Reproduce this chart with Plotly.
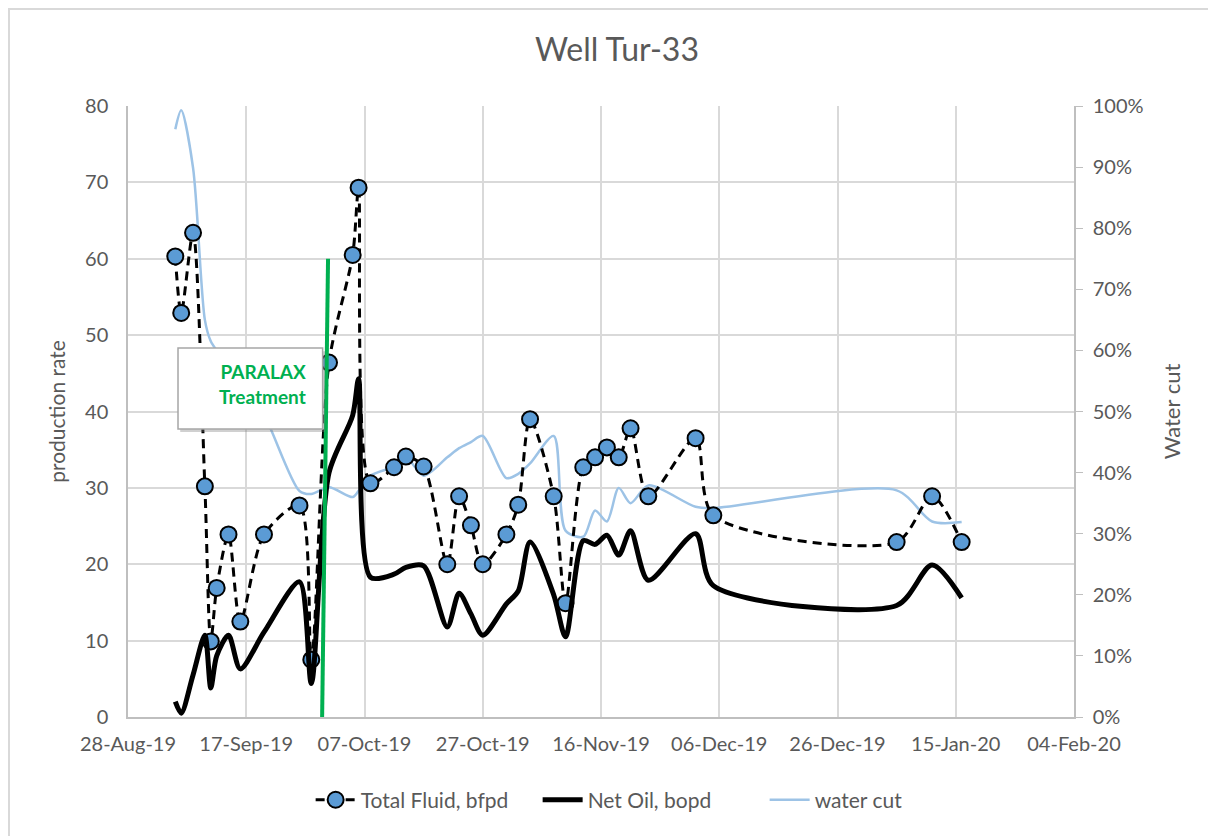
import plotly.graph_objects as go

# ---- data ----
dates = ["2019-09-05", "2019-09-06", "2019-09-08", "2019-09-10", "2019-09-11", "2019-09-12",
         "2019-09-14", "2019-09-16", "2019-09-20", "2019-09-26", "2019-09-28", "2019-10-01",
         "2019-10-05", "2019-10-06", "2019-10-08", "2019-10-12", "2019-10-14", "2019-10-17",
         "2019-10-21", "2019-10-23", "2019-10-25", "2019-10-27", "2019-10-31", "2019-11-02",
         "2019-11-04", "2019-11-08", "2019-11-10", "2019-11-13", "2019-11-15", "2019-11-17",
         "2019-11-19", "2019-11-21", "2019-11-24", "2019-12-02", "2019-12-05", "2020-01-05",
         "2020-01-11", "2020-01-16"]

total_fluid = [60.3, 52.9, 63.4, 30.2, 9.9, 16.9, 23.9, 12.5, 23.9, 27.7, 7.5, 46.4,
               60.5, 69.3, 30.6, 32.7, 34.1, 32.8, 20.0, 28.9, 25.1, 20.0, 23.9, 27.8,
               39.0, 28.9, 14.9, 32.7, 34.0, 35.3, 34.0, 37.8, 28.9, 36.5, 26.4, 22.9,
               28.9, 22.9]

net_oil = [2.0, 0.5, 5.5, 10.7, 3.8, 8.0, 10.7, 6.3, 11.1, 17.7, 4.4, 32.0,
           39.5, 44.3, 18.3, 18.7, 19.6, 19.8, 11.8, 16.2, 13.5, 10.7, 14.8, 16.5,
           22.9, 16.0, 10.5, 23.1, 22.6, 23.8, 21.2, 24.4, 17.9, 24.0, 17.2, 14.6,
           19.9, 15.6]

water_cut = [0.962, 0.993, 0.899, 0.65, 0.615, 0.60, 0.575, 0.55, 0.495, 0.37, 0.365, 0.376,
             0.36, 0.37, 0.395, 0.41, 0.425, 0.395, 0.425, 0.44, 0.45, 0.46, 0.391, 0.398,
             0.415, 0.46, 0.305, 0.295, 0.338, 0.32, 0.375, 0.35, 0.379, 0.344, 0.342, 0.371,
             0.32, 0.319]

treatment_x = ["2019-09-29 20:00", "2019-09-30 20:00"]
treatment_y = [0, 60]

tick_dates = ["2019-08-28", "2019-09-17", "2019-10-07", "2019-10-27", "2019-11-16",
              "2019-12-06", "2019-12-26", "2020-01-15", "2020-02-04"]
tick_labels = ["28-Aug-19", "17-Sep-19", "07-Oct-19", "27-Oct-19", "16-Nov-19",
               "06-Dec-19", "26-Dec-19", "15-Jan-20", "04-Feb-20"]

FONT = "Lato, 'Open Sans', sans-serif"
GREY_TXT = "#595959"

# the page adds an 8px body margin; the figure is sized to compensate
W, H = 1208, 828
ML, MR, MT, MB = 120, 142, 98, 119
PW, PH = W - ML - MR, H - MT - MB

fig = go.Figure()

fig.add_trace(go.Scatter(
    x=dates, y=water_cut, name="water cut", mode="lines", yaxis="y",
    line=dict(color="#9dc3e6", width=2.5, shape="spline", smoothing=0.8),
    legendrank=3))

fig.add_trace(go.Scatter(
    x=dates, y=total_fluid, name="Total Fluid, bfpd", mode="lines+markers", yaxis="y2",
    line=dict(color="black", width=3, dash="9px,6px", shape="spline", smoothing=0.8),
    marker=dict(symbol="circle", size=16, color="#5b9bd5", line=dict(color="black", width=2)),
    legendrank=1))

fig.add_trace(go.Scatter(
    x=dates, y=net_oil, name="Net Oil, bopd", mode="lines", yaxis="y2",
    line=dict(color="black", width=5, shape="spline", smoothing=0.8),
    legendrank=2))

fig.add_trace(go.Scatter(
    x=treatment_x, y=treatment_y, mode="lines", yaxis="y2", showlegend=False,
    line=dict(color="#00b050", width=4), hoverinfo="skip"))

fig.update_layout(
    width=W, height=H,
    margin=dict(l=ML, r=MR, t=MT, b=MB, autoexpand=False),
    paper_bgcolor="white", plot_bgcolor="white",
    font=dict(family=FONT, color=GREY_TXT, size=20),
    title=dict(text="Well Tur-33", x=609 / W, xref="container", xanchor="center",
               y=1 - 42 / H, yref="container", yanchor="middle",
               font=dict(family=FONT, size=32, color=GREY_TXT)),
    xaxis=dict(type="date", range=["2019-08-28", "2020-02-04"],
               tickvals=tick_dates, ticktext=tick_labels,
               showgrid=True, gridcolor="#d9d9d9", gridwidth=1.5,
               showline=True, linecolor="#bfbfbf", linewidth=1.5,
               zeroline=False, ticks="outside", ticklen=8, tickcolor="rgba(0,0,0,0)",
               tickfont=dict(size=20, color=GREY_TXT)),
    yaxis=dict(side="right", range=[0, 1], dtick=0.1, tickformat=".0%",
               showgrid=False, zeroline=False,
               showline=True, linecolor="#bfbfbf", linewidth=1.5,
               ticks="outside", ticklen=7, tickcolor="#bfbfbf", ticklabelstandoff=6,
               tickfont=dict(size=20, color=GREY_TXT),
               title=dict(text="Water cut", font=dict(size=22, color=GREY_TXT), standoff=22)),
    yaxis2=dict(overlaying="y", side="left", range=[0, 80], dtick=10,
                showgrid=True, gridcolor="#d9d9d9", gridwidth=1.5, zeroline=False,
                showline=True, linecolor="#bfbfbf", linewidth=1.5,
                ticks="outside", ticklen=14, tickcolor="rgba(0,0,0,0)",
                tickfont=dict(size=20, color=GREY_TXT),
                title=dict(text="production rate", font=dict(size=21, color=GREY_TXT), standoff=14)),
    legend=dict(orientation="h", x=0.553, xanchor="center", y=-0.136, yanchor="middle",
                font=dict(size=21, color=GREY_TXT), bgcolor="rgba(0,0,0,0)",
                itemwidth=40, entrywidth=172, entrywidthmode="pixels"),
    showlegend=True,
)

# outer chart border (extends past the right and bottom edges like the reference)
fig.add_shape(type="rect", xref="paper", yref="paper",
              x0=(1 - ML) / PW, x1=(W + 20 - ML) / PW,
              y0=(MT + PH - (H + 20)) / PH, y1=(MT + PH - 1) / PH,
              line=dict(color="#d9d9d9", width=2), fillcolor="rgba(0,0,0,0)", layer="below")

# text box shadow + box
fig.add_shape(type="rect", xref="x", yref="y2",
              x0="2019-09-05 20:00", x1="2019-09-30 08:00", y0=37.3, y1=47.9,
              line=dict(width=0), fillcolor="rgba(120,120,120,0.35)", layer="above")
fig.add_shape(type="rect", xref="x", yref="y2",
              x0="2019-09-05 11:00", x1="2019-09-29 22:00", y0=37.7, y1=48.3,
              line=dict(color="#a6a6a6", width=1.5), fillcolor="white", layer="above")

fig.add_annotation(x="2019-09-27 10:00", y=43.6, xref="x", yref="y2",
                   text="<b>PARALAX</b><br><b>Treatment</b>", showarrow=False,
                   xanchor="right", yanchor="middle", align="right",
                   font=dict(family=FONT, size=19, color="#00b050"))

fig.write_html("out.html")
